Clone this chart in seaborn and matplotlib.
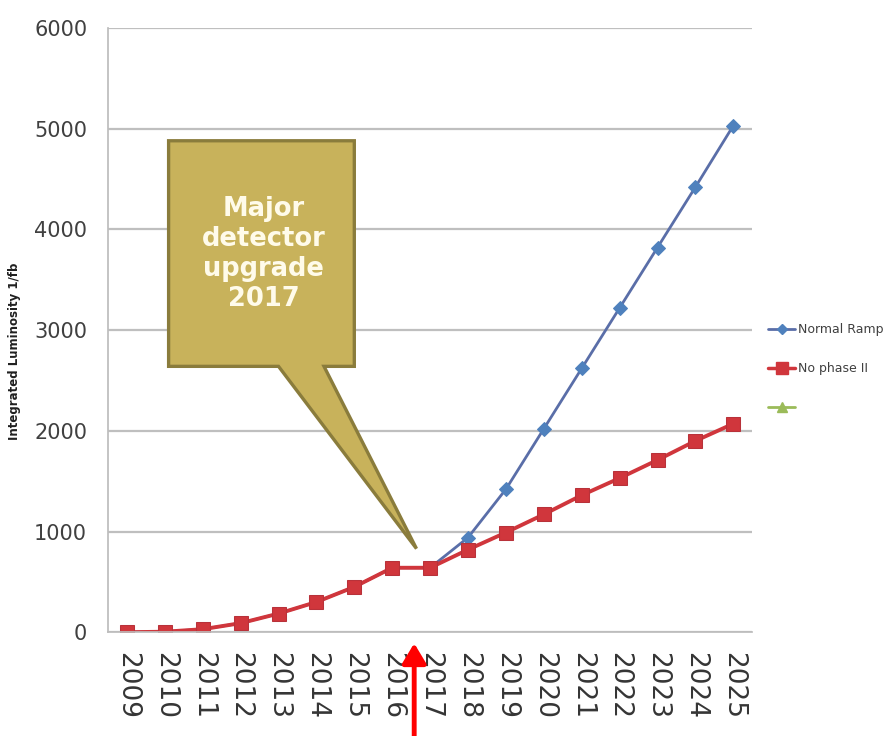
import matplotlib
matplotlib.use("Agg")
import matplotlib.pyplot as plt
from matplotlib.lines import Line2D
from matplotlib.patches import Polygon
import seaborn as sns
import pandas as pd

years = list(range(2009, 2026))
normal_ramp = [0, 5, 30, 90, 185, 300, 450, 640, 640, 940, 1420, 2020, 2620, 3220, 3820, 4420, 5030]
no_phase2 = [0, 5, 30, 90, 185, 300, 450, 640, 640, 820, 990, 1170, 1360, 1530, 1710, 1900, 2070]
series_names = ["Normal Ramp", "No phase II", ""]
y_ticks = [0, 1000, 2000, 3000, 4000, 5000, 6000]
callout_text = "Major\ndetector\nupgrade\n2017"
y_label = "Integrated Luminosity 1/fb"

blue = "#4F81BD"
blue_line = "#5A6EA8"
red = "#D0363C"
green = "#9BBB59"

df = pd.DataFrame({
    "year": years * 2,
    "value": normal_ramp + no_phase2,
    "series": [series_names[0]] * len(years) + [series_names[1]] * len(years),
})

sns.set_theme(style="white")
plt.rcParams["font.family"] = ["DejaVu Sans"]

fig = plt.figure(figsize=(8.85, 7.36), dpi=100)
ax = fig.add_axes([0.122, 0.141, 0.728, 0.821])

sns.lineplot(data=df[df.series == series_names[0]], x="year", y="value",
             color=blue_line, linewidth=2, marker="D", markersize=7,
             markerfacecolor=blue, markeredgecolor=blue, ax=ax, legend=False)
sns.lineplot(data=df[df.series == series_names[1]], x="year", y="value",
             color=red, linewidth=2.8, marker="s", markersize=10,
             markerfacecolor=red, markeredgecolor="#B8323A", ax=ax, legend=False)

ax.set_xlim(years[0] - 0.5, years[-1] + 0.5)
ax.set_ylim(y_ticks[0], y_ticks[-1])
ax.set_yticks(y_ticks)
ax.set_yticklabels([str(t) for t in y_ticks], fontsize=15, color="#404040")
ax.set_xticks(years)
ax.set_xticklabels([str(y) for y in years], rotation=-90, fontsize=19, color="#353535")
ax.set_xticks([y + 0.5 for y in [years[0] - 1] + years], minor=True)
ax.tick_params(axis="x", which="major", length=0, pad=14)
ax.tick_params(axis="x", which="minor", length=8, color="#BBBBBB", width=1, direction="out")
ax.tick_params(axis="y", which="major", length=10, color="#BBBBBB", width=1, direction="out", pad=5)

ax.grid(axis="y", color="#BFBFBF", linewidth=1.6)
ax.set_axisbelow(True)
for side in ["top", "right"]:
    ax.spines[side].set_visible(False)
ax.spines["left"].set_color("#BDBDBD")
ax.spines["bottom"].set_color("#BDBDBD")
ax.set_xlabel("")
ax.set_ylabel(y_label, fontsize=8.5, fontweight="bold", color="#202020")
ax.yaxis.set_label_coords(-0.135, 0.465)

# Callout box with pointer towards the 2017 upgrade
box = Polygon([(2010.1, 4880), (2015.0, 4880), (2015.0, 2640),
               (2014.2, 2640), (2016.64, 830), (2013.0, 2640),
               (2010.1, 2640)], closed=True, facecolor="#C8B25B",
              edgecolor="#8A7C3C", linewidth=2.4, zorder=5)
ax.add_patch(box)
ax.text(2012.6, 3760, callout_text, ha="center", va="center", color="#FFFBEA",
        fontsize=18.5, fontweight="bold", linespacing=1.2, zorder=6)

# Red arrow under the axis marking the start of the upgrade
ax.annotate("", xy=(2016.58, -110), xytext=(2016.58, -1060),
            xycoords="data", textcoords="data", annotation_clip=False,
            arrowprops=dict(arrowstyle="-|>,head_length=1.0,head_width=0.6",
                            color="#FF0000", linewidth=3.5, shrinkA=0, shrinkB=0))

handles = [
    Line2D([], [], color=blue_line, marker="D", markersize=5,
           markerfacecolor=blue, markeredgecolor=blue, linewidth=2),
    Line2D([], [], color=red, marker="s", markersize=8,
           markerfacecolor=red, markeredgecolor=red, linewidth=2.5),
    Line2D([], [], color=green, marker="^", markersize=7, linewidth=2),
]
leg = fig.legend(handles, series_names, loc="center left",
                 bbox_to_anchor=(0.855, 0.499), frameon=False, fontsize=9,
                 handlelength=2.2, labelspacing=2.1, handletextpad=0.2)
for t in leg.get_texts():
    t.set_color("#404040")

fig.savefig("out.png", dpi=100)
